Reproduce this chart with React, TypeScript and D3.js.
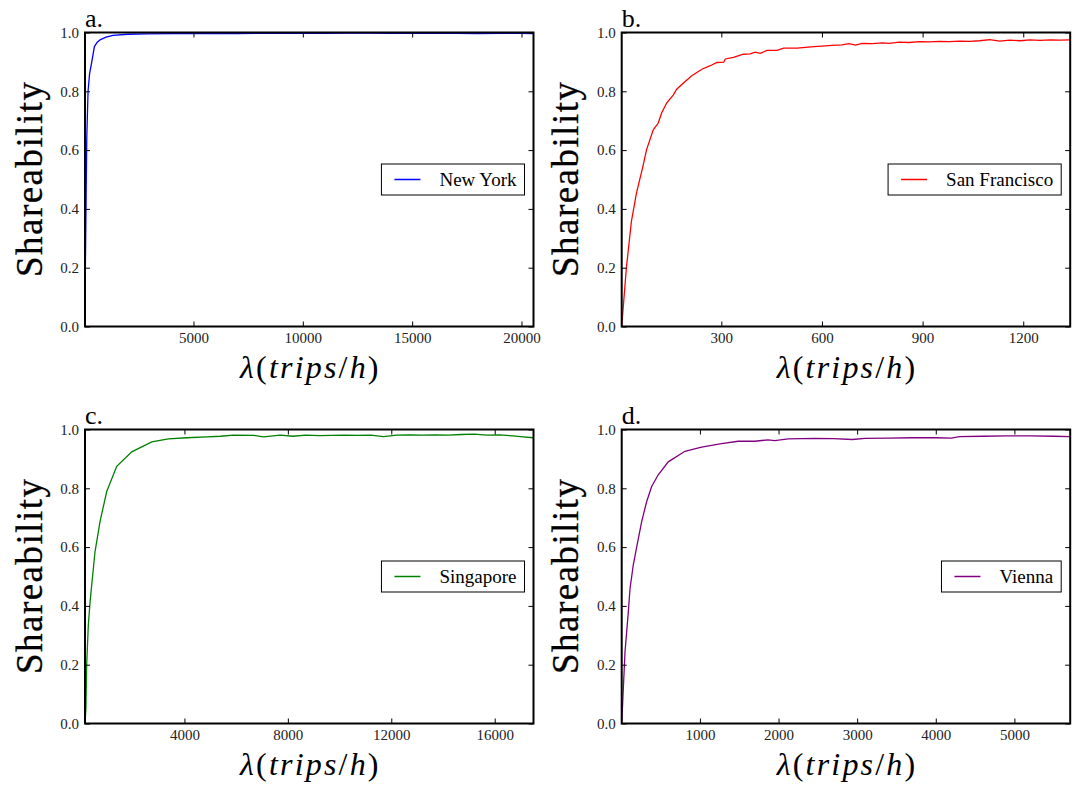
import React, { useRef, useEffect } from "react";
import * as d3 from "d3";

// valori
const nyLambda = [40, 60, 120, 180, 250, 350, 470, 600, 730, 1000, 1320, 2000, 2870, 4000, 5000, 6000, 7000, 8000, 9000, 10000, 11000, 12000, 13000, 14000, 15000, 16000, 17000, 18000, 19000, 20000, 20550];
const nyShare = [0.0, 0.22, 0.64, 0.8, 0.86, 0.9, 0.952, 0.967, 0.975, 0.984, 0.99, 0.994, 0.995, 0.996, 0.996, 0.997, 0.996, 0.997, 0.998, 0.997, 0.997, 0.998, 0.998, 0.997, 0.998, 0.997, 0.997, 0.996, 0.997, 0.997, 0.996];

const sfLambda = [3, 17, 32, 47, 65, 77, 97, 112, 122, 137, 157, 167, 187, 212, 242, 267, 287, 307, 312, 336, 366, 386, 401, 416, 436, 466, 486, 526, 576, 600, 630, 660, 680, 700, 720, 750, 780, 800, 830, 860, 890, 920, 950, 980, 1010, 1040, 1070, 1100, 1130, 1160, 1190, 1220, 1250, 1280, 1310, 1340];
const sfShare = [0.0, 0.2, 0.358, 0.454, 0.539, 0.601, 0.669, 0.692, 0.726, 0.76, 0.788, 0.807, 0.828, 0.853, 0.875, 0.887, 0.898, 0.899, 0.91, 0.915, 0.926, 0.927, 0.933, 0.929, 0.939, 0.939, 0.947, 0.947, 0.952, 0.954, 0.956, 0.958, 0.962, 0.957, 0.963, 0.962, 0.965, 0.963, 0.967, 0.966, 0.969, 0.968, 0.97, 0.969, 0.971, 0.97, 0.972, 0.976, 0.971, 0.974, 0.972, 0.975, 0.973, 0.975, 0.974, 0.975];

const sgLambda = [155, 190, 220, 283, 348, 414, 542, 736, 995, 1382, 1963, 2737, 3380, 4100, 4867, 5400, 5897, 6672, 7059, 7706, 8200, 8700, 9200, 9700, 10200, 10700, 11200, 11700, 12200, 12700, 13200, 13700, 14200, 14700, 15200, 15700, 16200, 16700, 17100, 17500];
const sgShare = [0.0, 0.05, 0.2, 0.334, 0.41, 0.471, 0.584, 0.687, 0.789, 0.875, 0.924, 0.958, 0.968, 0.972, 0.975, 0.977, 0.981, 0.98, 0.975, 0.981, 0.977, 0.981, 0.979, 0.98, 0.981, 0.98, 0.981, 0.976, 0.981, 0.982, 0.981, 0.982, 0.981, 0.983, 0.984, 0.981, 0.982, 0.978, 0.975, 0.972];

const viLambda = [5, 13, 47, 89, 111, 152, 196, 259, 323, 386, 470, 597, 809, 1021, 1275, 1487, 1699, 1868, 1953, 2122, 2461, 2700, 2940, 3100, 3400, 3700, 4000, 4200, 4300, 4600, 4900, 5200, 5500, 5710];
const viShare = [0.0, 0.045, 0.243, 0.379, 0.459, 0.539, 0.601, 0.687, 0.755, 0.806, 0.846, 0.89, 0.926, 0.94, 0.952, 0.96, 0.96, 0.965, 0.962, 0.968, 0.97, 0.969, 0.966, 0.97, 0.971, 0.972, 0.972, 0.971, 0.976, 0.977, 0.978, 0.978, 0.977, 0.976];

const yTicks = [0, 0.2, 0.4, 0.6, 0.8, 1.0];

const panels = [
  { tag: "a.", city: "New York", color: "#0000ff", lambda: nyLambda, share: nyShare, xTicks: [5000, 10000, 15000, 20000] },
  { tag: "b.", city: "San Francisco", color: "#ff0000", lambda: sfLambda, share: sfShare, xTicks: [300, 600, 900, 1200] },
  { tag: "c.", city: "Singapore", color: "#008000", lambda: sgLambda, share: sgShare, xTicks: [4000, 8000, 12000, 16000] },
  { tag: "d.", city: "Vienna", color: "#800080", lambda: viLambda, share: viShare, xTicks: [1000, 2000, 3000, 4000, 5000] },
];

const W = 1080;
const H = 786;
const FONT = "Liberation Serif";

export default function App() {
  const svgRef = useRef<SVGSVGElement>(null);

  useEffect(() => {
    const svg = d3.select(svgRef.current);
    svg.selectAll("*").remove();

    const pw = 448.5;
    const ph = 294;
    const lefts = [85, 621.7];
    const tops = [32.5, 429.5];

    panels.forEach((p, i) => {
      const left = lefts[i % 2];
      const top = tops[Math.floor(i / 2)];
      const g = svg.append("g").attr("transform", `translate(${left},${top})`);

      const x = d3.scaleLinear().domain(d3.extent(p.lambda) as [number, number]).range([0, pw]);
      const y = d3.scaleLinear().domain([0, 1]).range([ph, 0]);

      const clipId = `clip-${i}`;
      g.append("clipPath").attr("id", clipId)
        .append("rect").attr("width", pw).attr("height", ph);

      const pts = p.lambda.map((l, k) => [l, p.share[k]] as [number, number]);
      const line = d3.line<[number, number]>().x(d => x(d[0])).y(d => y(d[1]));

      g.append("path")
        .datum(pts)
        .attr("clip-path", `url(#${clipId})`)
        .attr("fill", "none")
        .attr("stroke", p.color)
        .attr("stroke-width", 1.3)
        .attr("d", line);

      // assi con tick verso l'interno
      const styleAxis = (ax: any) => {
        ax.attr("font-family", FONT).attr("font-size", 15);
        ax.select(".domain").remove();
        ax.selectAll("line").attr("stroke", "#000").attr("stroke-width", 1);
        ax.selectAll("text").attr("fill", "#222");
      };

      g.append("g")
        .call(d3.axisLeft(y).tickValues(yTicks).tickSize(-5).tickPadding(6).tickFormat(d3.format(".1f")))
        .call(styleAxis);
      g.append("g").attr("transform", `translate(${pw},0)`)
        .call(d3.axisRight(y).tickValues(yTicks).tickSize(-5).tickFormat(() => ""))
        .call(styleAxis);
      g.append("g").attr("transform", `translate(0,${ph})`)
        .call(d3.axisBottom(x).tickValues(p.xTicks).tickSize(-5).tickPadding(6).tickFormat(d3.format("d")))
        .call(styleAxis);
      g.append("g")
        .call(d3.axisTop(x).tickValues(p.xTicks).tickSize(-5).tickFormat(() => ""))
        .call(styleAxis);

      g.append("rect")
        .attr("width", pw).attr("height", ph)
        .attr("fill", "none").attr("stroke", "#000").attr("stroke-width", 2);

      // legenda (center right)
      const lg = g.append("g");
      const lt = lg.append("text")
        .attr("y", 6.5)
        .attr("font-family", FONT).attr("font-size", 19)
        .attr("fill", "#000")
        .text(p.city);
      const tw = (lt.node() as SVGTextElement).getComputedTextLength();
      const bw = 13 + 26 + 19 + tw + 8;
      const bh = 31;
      lg.insert("rect", "text")
        .attr("x", 0).attr("y", -bh / 2).attr("width", bw).attr("height", bh)
        .attr("fill", "#fff").attr("stroke", "#000").attr("stroke-width", 1);
      lg.insert("line", "text")
        .attr("x1", 13).attr("x2", 39).attr("y1", 0).attr("y2", 0)
        .attr("stroke", p.color).attr("stroke-width", 1.5);
      lt.attr("x", 58);
      lg.attr("transform", `translate(${pw - 9 - bw},${ph / 2})`);

      // etichette
      g.append("text")
        .attr("x", 0).attr("y", -5.5)
        .attr("font-family", FONT).attr("font-size", 26)
        .text(p.tag);

      g.append("text")
        .attr("transform", `translate(-43.3,${ph / 2}) rotate(-90)`)
        .attr("text-anchor", "middle")
        .attr("font-family", FONT).attr("font-size", 37)
        .attr("stroke", "#000").attr("stroke-width", 0.3)
        .attr("textLength", 195).attr("lengthAdjust", "spacing")
        .text("Shareability");

      // λ(trips/h): lettere separate, corsivo come in mathtext
      const xl = g.append("text")
        .attr("x", pw / 2).attr("y", ph + 51)
        .attr("text-anchor", "middle")
        .attr("font-family", FONT).attr("font-size", 32);
      const parts: [string, boolean][] = [["λ", true], ["(", false], ["trips", true], ["/", false], ["h", true], [")", false]];
      parts.forEach(([s, it], k) => {
        s.split("").forEach((ch, j) => {
          xl.append("tspan")
            .attr("dx", k === 0 && j === 0 ? 0 : 2.2)
            .attr("font-style", it ? "italic" : "normal")
            .text(ch);
        });
      });
    });
  }, []);

  return (
    <svg
      ref={svgRef}
      width={W}
      height={H}
      style={{ position: "absolute", left: 0, top: 0, background: "#fff" }}
    />
  );
}
